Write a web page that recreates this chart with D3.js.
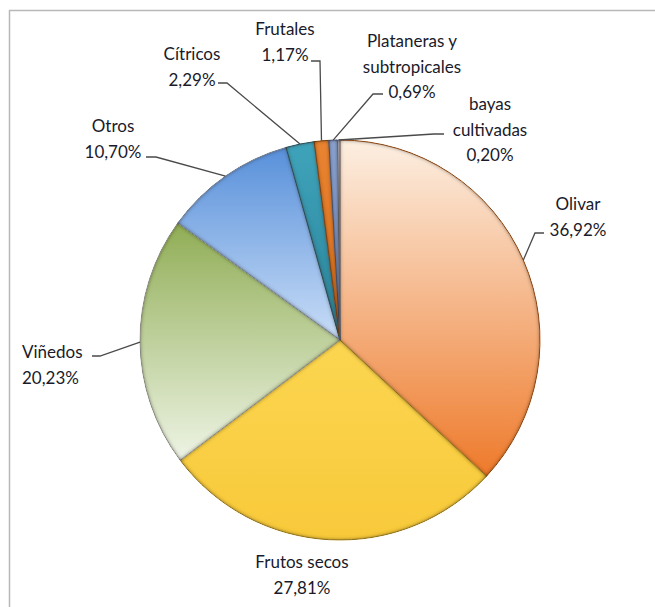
<!DOCTYPE html>
<html>
<head>
<meta charset="utf-8">
<script src="https://cdn.jsdelivr.net/npm/d3@7"></script>
<style>
  html, body { margin: 0; padding: 0; background: #fff; }
  text { font-family: Lato, "Open Sans", sans-serif; fill: #1a1a2a; }
</style>
</head>
<body>
<div id="chart"></div>
<script>
// Data
var categories = ["Olivar", "Frutos secos", "Viñedos", "Otros", "Cítricos", "Frutales", "Plataneras y subtropicales", "bayas cultivadas"];
var shares = [36.92, 27.81, 20.23, 10.70, 2.29, 1.17, 0.69, 0.20];

// Styles (top colour, bottom colour of each slice gradient)
var sliceColors = [
  ["#fcefe2", "#ee7a2b"],
  ["#fcd651", "#f8c93a"],
  ["#90ad55", "#eef4e5"],
  ["#5890da", "#c9ddf7"],
  ["#3fa4bb", "#2a8298"],
  ["#e98432", "#d96e20"],
  ["#8aa3d0", "#6f8cc0"],
  ["#d8deec", "#b8c4dc"]
];

// Label layout: x, first baseline y, text-anchor, wrap, leader start/elbow
var labelLayout = [
  { x: 578, y: 210, anchor: "middle", wrap: false, leader: [[544, 233], [535, 233]] },
  { x: 302, y: 568, anchor: "middle", wrap: false, leader: null },
  { x: 22,  y: 358, anchor: "start",  wrap: false, leader: [[92, 356], [100, 356]] },
  { x: 113, y: 132, anchor: "middle", wrap: false, leader: [[146, 157], [156, 157]] },
  { x: 192, y: 60,  anchor: "middle", wrap: false, leader: [[218, 83], [227, 83]] },
  { x: 285, y: 35,  anchor: "middle", wrap: false, leader: [[311, 61], [320, 61]] },
  { x: 412, y: 47,  anchor: "middle", wrap: true,  leader: [[383, 94], [373, 94]] },
  { x: 490, y: 110, anchor: "middle", wrap: true,  leader: [[444, 134], [434, 134]] }
];

var width = 655;
var height = 607;
var cx = 340, cy = 340, radius = 200;
var lineH = 25.5;

var fmt = function(v) { return d3.format(".2f")(v).replace(".", ",") + "%"; };

var svg = d3.select("#chart").append("svg")
  .attr("width", width)
  .attr("height", height);

// Frame lines (top and left visible)
svg.append("path")
  .attr("d", "M9.5," + height + "V10.5H" + width)
  .attr("fill", "none")
  .attr("stroke", "#b8b8b8")
  .attr("stroke-width", 1.5);

var defs = svg.append("defs");

sliceColors.forEach(function(c, i) {
  var g = defs.append("linearGradient")
    .attr("id", "grad" + i)
    .attr("x1", 0).attr("y1", 0).attr("x2", 0).attr("y2", 1);
  g.append("stop").attr("offset", "0%").attr("stop-color", c[0]);
  g.append("stop").attr("offset", "100%").attr("stop-color", c[1]);
});

// Inner shadow along each slice edge, for the bevelled look
var f = defs.append("filter").attr("id", "bevel")
  .attr("x", "-5%").attr("y", "-5%").attr("width", "110%").attr("height", "110%");
f.append("feGaussianBlur").attr("in", "SourceAlpha").attr("stdDeviation", 2.2).attr("result", "blur");
f.append("feComposite").attr("in", "SourceAlpha").attr("in2", "blur")
  .attr("operator", "arithmetic").attr("k1", 0).attr("k2", 1.8).attr("k3", -1.8).attr("k4", 0)
  .attr("result", "rim");
f.append("feFlood").attr("flood-color", "#3a2810").attr("flood-opacity", 0.7).attr("result", "flood");
f.append("feComposite").attr("in", "flood").attr("in2", "rim").attr("operator", "in").attr("result", "shade");
var m = f.append("feMerge");
m.append("feMergeNode").attr("in", "SourceGraphic");
m.append("feMergeNode").attr("in", "shade");

var pie = d3.pie().sort(null).value(function(d) { return d; });
var arcs = pie(shares);

var arc = d3.arc().innerRadius(0).outerRadius(radius);
var edgeArc = d3.arc().innerRadius(radius).outerRadius(radius);

var chart = svg.append("g").attr("transform", "translate(" + cx + "," + cy + ")");

chart.selectAll("path.slice")
  .data(arcs)
  .enter().append("path")
  .attr("class", "slice")
  .attr("d", arc)
  .attr("fill", function(d, i) { return "url(#grad" + i + ")"; })
  .attr("stroke", function(d, i) { return d3.color(sliceColors[i][1]).darker(0.8); })
  .attr("stroke-width", 1)
  .attr("stroke-linejoin", "round")
  .attr("filter", "url(#bevel)");

// Leader lines
var leaders = svg.append("g");
arcs.forEach(function(d, i) {
  var L = labelLayout[i];
  if (!L.leader) return;
  var p = edgeArc.centroid(d);
  var pts = L.leader.concat([[cx + p[0], cy + p[1]]]);
  leaders.append("path")
    .attr("d", d3.line()(pts))
    .attr("fill", "none")
    .attr("stroke", "#4a4a4a")
    .attr("stroke-width", 1.3);
});

// Labels
var labels = svg.append("g");
categories.forEach(function(name, i) {
  var L = labelLayout[i];
  var lines;
  if (L.wrap) {
    var k = name.lastIndexOf(" ");
    lines = [name.slice(0, k), name.slice(k + 1)];
  } else {
    lines = [name];
  }
  lines.push(fmt(shares[i]));
  var t = labels.append("text")
    .attr("text-anchor", L.anchor)
    .style("font-size", "17px");
  lines.forEach(function(s, j) {
    t.append("tspan")
      .attr("x", L.x)
      .attr("y", L.y + j * lineH)
      .text(s);
  });
});
</script>
</body>
</html>
